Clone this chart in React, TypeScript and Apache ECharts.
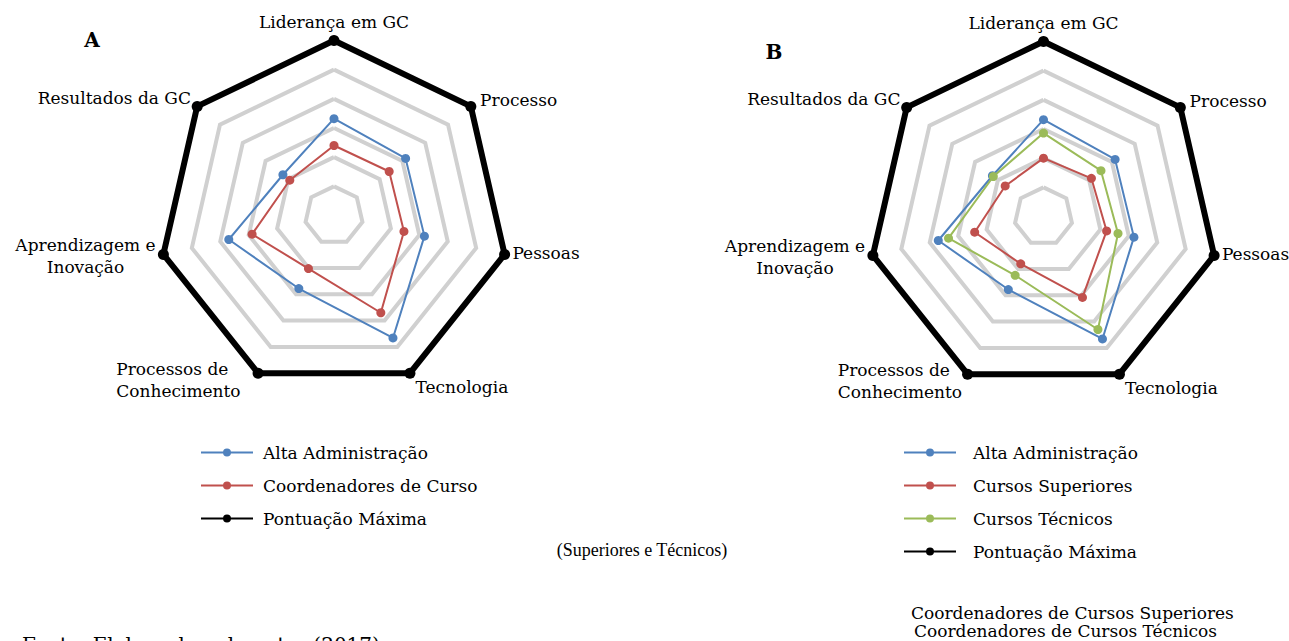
import React, { useEffect, useRef } from "react";
import * as echarts from "echarts";

// Categories in clockwise order, starting at the top
const categories = [
  "Liderança em GC",
  "Processo",
  "Pessoas",
  "Tecnologia",
  "Processos de\nConhecimento",
  "Aprendizagem e\nInovação",
  "Resultados da GC",
];
const maxScore = 30;
const pontuacaoMaxima = [30, 30, 30, 30, 30, 30, 30];
const altaAdministracao = [16.6, 15.7, 15.9, 23.3, 13.9, 18.5, 11.2];
const coordenadoresCurso = [12.0, 12.1, 12.3, 18.5, 10.1, 14.4, 9.7];
const cursosSuperiores = [10.0, 10.5, 11.1, 15.4, 9.0, 12.1, 8.4];
const cursosTecnicos = [14.3, 12.6, 13.1, 21.5, 11.2, 16.7, 11.0];

const legendA = ["Alta Administração", "Coordenadores de Curso", "Pontuação Máxima"];
const legendB = ["Alta Administração", "Cursos Superiores", "Cursos Técnicos", "Pontuação Máxima"];

const BLUE = "#4f81bd";
const RED = "#c0504d";
const GREEN = "#9bbb59";
const BLACK = "#000000";
const FONT = "DejaVu Serif";
const FS = 17;

// ECharts lays indicators counter-clockwise; reorder to get clockwise
function ccw<T>(arr: T[]): T[] {
  return [arr[0], ...arr.slice(1).reverse()];
}

const richBase = { fontFamily: FONT, fontSize: FS, color: "#000", lineHeight: 22 };

function radarCfg(center: [number, number], pkRight: number) {
  return {
    center,
    radius: 175,
    startAngle: 90,
    splitNumber: 6,
    shape: "polygon",
    indicator: ccw(categories).map((name) => ({ name, min: 0, max: maxScore })),
    axisLine: { show: false },
    axisTick: { show: false },
    axisLabel: { show: false },
    splitArea: { show: false },
    splitLine: { lineStyle: { color: "#d0d0d0", width: 4 } },
    nameGap: 8,
    axisName: {
      color: "#000",
      fontFamily: FONT,
      fontSize: FS,
      lineHeight: 22,
      formatter: (name: string) => {
        if (name.startsWith("Aprendizagem")) return "{c|Aprendizagem e}\n{c|Inovação}";
        if (name.startsWith("Processos de")) return "{l|Processos de}\n{l|Conhecimento}";
        if (name === "Tecnologia") return "{t|Tecnologia}";
        if (name === "Pessoas") return "{p|Pessoas}";
        if (name === "Processo") return "{q|Processo}";
        if (name.startsWith("Resultados")) return "{r|Resultados da GC}";
        return name;
      },
      rich: {
        c: { ...richBase, align: "center" },
        l: { ...richBase, align: "left", padding: [0, pkRight, 0, 0] },
        t: { ...richBase, padding: [14, 0, 0, 2] },
        p: { ...richBase, padding: [0, 0, 6, 0] },
        q: { ...richBase, padding: [0, 0, 2, 3] },
        r: { ...richBase, padding: [0, 0, 6, 0] },
      },
    },
  };
}

function item(name: string, values: number[], color: string, width: number, size: number) {
  return {
    name,
    value: ccw(values),
    symbol: "circle",
    symbolSize: size,
    itemStyle: { color },
    lineStyle: { color, width },
  };
}

const ICON = "path://M0,3L52,3L52,5L0,5Z M26,0A4,4,0,1,1,26,8A4,4,0,1,1,26,0Z";

function legendCfg(data: string[], left: number, textPad: number) {
  return {
    orient: "vertical",
    left,
    top: 444,
    padding: 0,
    itemWidth: 52,
    itemHeight: 8,
    itemGap: 16,
    icon: ICON,
    selectedMode: false,
    data,
    textStyle: { fontFamily: FONT, fontSize: FS, color: "#000", padding: [0, 0, 0, textPad] },
  };
}

export default function App() {
  const ref = useRef<HTMLDivElement>(null);
  useEffect(() => {
    if (!ref.current) return;
    const chart = echarts.init(ref.current, null, { renderer: "svg" });
    chart.setOption({
      animation: false,
      backgroundColor: "#ffffff",
      radar: [radarCfg([334, 215.5], 14), radarCfg([1043.5, 216.5], 2)],
      legend: [legendCfg(legendA, 201, 5), legendCfg(legendB, 904, 12)],
      series: [
        {
          type: "radar",
          radarIndex: 0,
          data: [
            item("Pontuação Máxima", pontuacaoMaxima, BLACK, 6, 11),
            item("Alta Administração", altaAdministracao, BLUE, 2, 9),
            item("Coordenadores de Curso", coordenadoresCurso, RED, 2, 9),
          ],
        },
        {
          type: "radar",
          radarIndex: 1,
          data: [
            item("Pontuação Máxima", pontuacaoMaxima, BLACK, 6, 11),
            item("Alta Administração", altaAdministracao, BLUE, 2, 9),
            item("Cursos Superiores", cursosSuperiores, RED, 2, 9),
            item("Cursos Técnicos", cursosTecnicos, GREEN, 2, 9),
          ],
        },
      ],
      graphic: [
        { type: "text", x: 92, y: 40, style: { text: "A", fontFamily: FONT, fontSize: 20, fontWeight: "bold", fill: "#000", align: "center", verticalAlign: "middle" } },
        { type: "text", x: 774, y: 52, style: { text: "B", fontFamily: FONT, fontSize: 20, fontWeight: "bold", fill: "#000", align: "center", verticalAlign: "middle" } },
        { type: "text", x: 642, y: 550, style: { text: "(Superiores e Técnicos)", fontFamily: "Liberation Serif", fontSize: 18, fill: "#000", align: "center", verticalAlign: "middle" } },
        { type: "text", x: 911, y: 613, style: { text: "Coordenadores de Cursos Superiores", fontFamily: FONT, fontSize: FS, fill: "#000", align: "left", verticalAlign: "middle" } },
        { type: "text", x: 914, y: 631, style: { text: "Coordenadores de Cursos Técnicos", fontFamily: FONT, fontSize: FS, fill: "#000", align: "left", verticalAlign: "middle" } },
        { type: "text", x: 22, y: 635, style: { text: "Fonte: Elaborado pelo autor (2017)", fontFamily: FONT, fontSize: 20, fill: "#000", align: "left", verticalAlign: "top" } },
      ],
    });
    return () => chart.dispose();
  }, []);
  return (
    <div
      ref={ref}
      style={{ position: "absolute", left: 0, top: 0, width: 1289, height: 641, background: "#fff" }}
    />
  );
}
